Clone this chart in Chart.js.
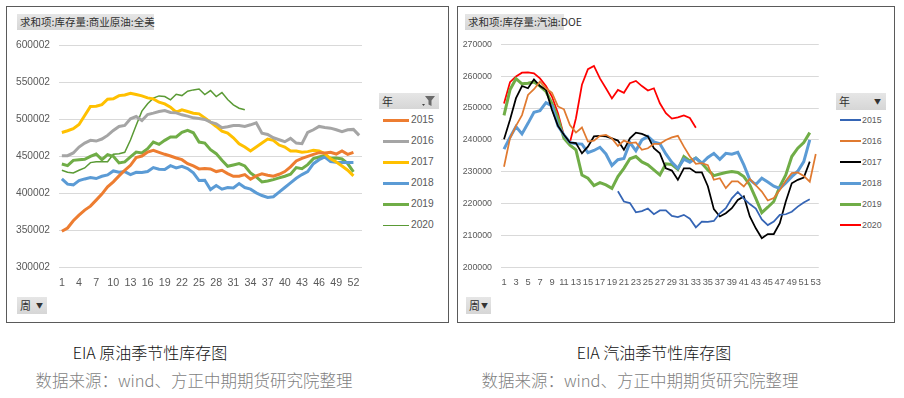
<!DOCTYPE html>
<html>
<head>
<meta charset="utf-8">
<script src="https://cdn.jsdelivr.net/npm/chart.js@4.4.0/dist/chart.umd.min.js"></script>
<style>
  body { margin: 0; width: 904px; height: 398px; background: #fff; position: relative; overflow: hidden;
         font-family: "Liberation Sans", "Noto Sans CJK SC", sans-serif; }
  .frame { position: absolute; top: 6px; height: 317px; border: 1px solid #5a5a5a; box-sizing: border-box; }
  .tag { position: absolute; height: 16px; line-height: 16px; background: linear-gradient(#e6e6e6, #d6d6d6);
         font-family: "Noto Sans CJK SC", sans-serif; font-size: 10.5px; color: #303030; padding-left: 3px;
         box-sizing: border-box; white-space: nowrap; }
  canvas { position: absolute; }
  .legItem { position: absolute; color: #595959; line-height: 14px; }
  .legLine { position: absolute; }
  .cap { position: absolute; transform: translateX(-50%); white-space: nowrap;
         font-family: "Noto Sans CJK SC", sans-serif; font-weight: 300; }
</style>
</head>
<body>

<div class="frame" style="left:6px;width:443px;"></div>
<div class="frame" style="left:457px;width:438px;"></div>

<div class="tag" style="left:17px;top:14px;width:137px;">求和项:库存量:商业原油:全美</div>
<div class="tag" style="left:465px;top:14px;width:99px;">求和项:库存量:汽油:DOE</div>

<canvas id="crudeChart" width="364" height="265" style="left:6px;top:30px;width:364px;height:265px;"></canvas>
<canvas id="gasChart" width="372" height="265" style="left:458px;top:30px;width:372px;height:265px;"></canvas>

<div class="tag" style="left:379px;top:93px;width:60px;height:16px;font-size:11px;">年
  <svg style="position:absolute;left:43px;top:2px" width="14" height="12" viewBox="0 0 14 12">
    <path d="M0 9 L3 9 L1.5 11 Z" fill="#444"/>
    <path d="M3 1 L13 1 L9.5 5.5 L9.5 11 L6.5 9.5 L6.5 5.5 Z" fill="#6a6a6a"/>
  </svg>
</div>
<div class="tag" style="left:836px;top:93px;width:50px;height:17px;font-size:11px;">年
  <span style="position:absolute;left:38px;top:0;font-size:7px;color:#333">▼</span>
</div>

<div id="crudeLegend"></div>
<div id="gasLegend"></div>

<div class="tag" style="left:17px;top:297px;width:30px;height:17px;font-size:11px;">周
  <span style="position:absolute;left:19px;top:0;font-size:7px;color:#333">▼</span>
</div>
<div class="tag" style="left:466px;top:297px;width:25px;height:17px;font-size:11px;">周
  <span style="position:absolute;left:15px;top:0;font-size:7px;color:#333">▼</span>
</div>

<div class="cap" style="left:150px;top:340px;font-size:16px;color:#111;">EIA 原油季节性库存图</div>
<div class="cap" style="left:194px;top:368px;font-size:16.5px;color:#7f7f7f;">数据来源：wind、方正中期期货研究院整理</div>
<div class="cap" style="left:654px;top:340px;font-size:16px;color:#111;">EIA 汽油季节性库存图</div>
<div class="cap" style="left:640px;top:368px;font-size:16.5px;color:#7f7f7f;">数据来源：wind、方正中期期货研究院整理</div>

<script>
// week categories (1..53)
const weeks = [1,2,3,4,5,6,7,8,9,10,11,12,13,14,15,16,17,18,19,20,21,22,23,24,25,26,27,
  28,29,30,31,32,33,34,35,36,37,38,39,40,41,42,43,44,45,46,47,48,49,50,51,52,53];

const years = ["2015", "2016", "2017", "2018", "2019", "2020"];

// y tick labels
const crudeTicks = [300002, 350002, 400002, 450002, 500002, 550002, 600002];
const gasTicks = [200000, 210000, 220000, 230000, 240000, 250000, 260000, 270000];

// commercial crude stocks, US (by week)
const crude2015 = [348800,353300,363000,370700,377400,382800,390900,399000,408800,415500,
  423600,431200,437900,448200,450400,455800,458000,455400,452700,450400,
  447700,445500,440100,437000,433000,433400,433000,429400,431200,426700,
  423100,423100,425400,419100,423600,426300,424500,423100,425800,429400,
  435700,443700,447300,450000,452700,454900,454500,455400,453100,457200,
  452700,455400];
const crude2016 = [450900,450900,454500,462500,467900,471500,470600,473300,478200,484900,
  490300,491600,500600,503700,498300,506400,508200,510400,511800,509100,
  508600,506000,504200,501900,501000,499700,496100,493900,488500,489800,
  491600,491600,490300,492500,495200,481300,479500,475000,472400,469700,
  474200,467900,467000,482200,485800,490300,488900,488000,485800,483100,
  485800,486300,478200];
const crude2017 = [482200,484500,487200,493000,505100,517200,517600,519800,527000,527500,
  531900,532800,535100,533300,531500,528800,527500,523000,520700,516300,
  509500,512700,510400,508200,507300,501900,496100,490300,484000,481300,
  475000,467000,462500,457200,462500,467900,473300,471500,465200,462500,
  457200,457200,455400,456300,458000,457200,453600,446800,442400,437000,
  431200,423600];
const crude2018 = [419500,412400,411500,417300,419500,421300,420000,423100,424900,430300,
  428500,429400,425400,428500,428100,429400,434800,432500,432100,437400,
  434300,436500,433400,427600,417300,417700,405200,410600,405700,407900,
  407400,413300,407900,405700,400700,397100,394500,395400,401600,407900,
  414200,420400,425400,429400,440100,445500,449100,442800,441900,441500,
  441500,441500];
const crude2019 = [439700,437400,444600,445500,446000,450000,453100,445500,452200,450000,
  441000,442400,449100,455800,454500,460300,469200,466100,471500,476000,
  476000,482200,484900,481800,469200,467900,458900,453600,444600,436500,
  438300,440100,437000,427600,422200,415500,416800,418600,420900,423100,
  425800,434800,433400,438800,446800,449100,450900,447300,447700,446400,
  440100,428900];
const crude2020 = [431200,428500,427600,431200,434300,441500,442800,442800,442800,452700,
  453600,455400,472000,492000,511000,521000,528500,531500,530600,526100,
  533700,531900,537800,539600,540900,533300,538700,530600,536000,526600,
  519400,514900,512700];

// gasoline stocks, DOE (by week)
const gas2015 = [null,null,null,null,null,null,null,null,null,null,
  null,null,null,null,null,null,null,null,null,223900,
  220700,220200,217300,217700,218500,216700,217900,217900,216200,215800,
  216500,215300,212600,214400,214300,214600,217000,218600,221700,223700,
  221600,219900,218500,215100,213300,214400,216500,216700,217500,219100,
  220400,221400];
const gas2016 = [231600,240500,244400,247800,254100,255900,258300,256200,254800,250500,
  249600,244700,242300,243900,239500,239800,241300,241600,240500,238100,
  239800,239000,239200,236900,237400,238800,238800,240000,240800,241300,
  237900,234800,232500,232700,232100,227500,228000,224900,227000,227000,
  225400,227800,225800,223800,221000,221800,224300,227200,229600,229800,
  228700,226900,235600];
const gas2017 = [240200,246300,253100,256900,256200,259000,256900,255700,249400,244400,
  241600,239200,239000,235800,237900,241100,241300,241100,240500,239800,
  236900,240500,242300,241900,241100,237400,235800,231100,230400,227500,
  231100,231100,229800,229800,225500,218300,216000,217000,218600,221200,
  222300,216000,212300,209200,210500,210500,213900,220700,226400,227500,
  228200,233200];
const gas2018 = [237100,240800,244200,241900,245200,248700,249200,251700,250700,244400,
  241600,239200,238800,238700,236000,236700,237700,235600,232000,233800,
  234200,239200,236600,240000,241100,239400,238800,235600,233000,231100,
  234000,233000,234300,232700,234500,235800,233900,235800,235500,236100,
  232200,227500,226000,228000,226800,225500,224800,226500,228500,230200,
  233200,240000];
const gas2019 = [247700,255700,259200,257600,257800,258200,256900,255200,251500,246800,
  240500,238400,236900,229000,228000,225700,226600,225900,224800,228500,
  231100,234100,234800,233100,232200,230600,229000,232500,232300,230800,
  234800,233400,234300,232700,230600,228800,229300,229800,230100,229800,
  228500,225900,221700,217200,218900,220700,225400,229000,234800,237400,
  239200,242300];
const gas2020 = [251400,258100,259900,261100,261200,260900,259300,256900,253600,248400,
  241300,239200,246800,257300,262200,263200,259300,256200,253000,255700,
  254800,257800,258500,256900,255500,256200,251500,248400,246700,247100,
  247700,246900,243800];

const crudeSeries = [crude2015, crude2016, crude2017, crude2018, crude2019, crude2020];
const crudeColors = ["#ED7D31", "#A5A5A5", "#FFC000", "#5B9BD5", "#70AD47", "#5A9A35"];
const crudeWidths = [3, 3, 3, 3, 3, 1.5];

const gasSeries = [gas2015, gas2016, gas2017, gas2018, gas2019, gas2020];
const gasColors = ["#3565B5", "#E07A30", "#000000", "#5B9BD5", "#70AD47", "#FF0000"];
const gasWidths = [1.75, 1.75, 1.75, 3, 3, 1.75];

Chart.defaults.font.family = "Liberation Sans";
Chart.defaults.color = "#595959";

function makeChart(id, series, colors, widths, ticks, yWidth, padRight, step, fontSize) {
  const datasets = series.map((data, i) => ({
    label: years[i],
    data: data,
    borderColor: colors[i],
    backgroundColor: colors[i],
    borderWidth: widths[i],
    pointRadius: 0,
    tension: 0,
    spanGaps: false
  }));

  return new Chart(document.getElementById(id), {
    type: "line",
    data: { labels: weeks, datasets: datasets },
    options: {
      responsive: false,
      animation: false,
      layout: { padding: { top: 14, right: padRight, left: 0, bottom: 0 } },
      plugins: { legend: { display: false }, tooltip: { enabled: false } },
      scales: {
        x: {
          offset: true,
          grid: { display: false, drawTicks: false },
          border: { display: false },
          ticks: {
            autoSkip: false,
            maxRotation: 0,
            padding: 9,
            font: { size: fontSize + 0.5 },
            callback: function(val, idx) {
              return idx % step === 0 ? String(weeks[idx]) : null;
            }
          },
          afterFit: function(scale) { scale.height = 27.5; }
        },
        y: {
          min: ticks[0],
          max: ticks[ticks.length - 1],
          grid: { color: "#d9d9d9", lineWidth: 1, drawTicks: false },
          border: { display: false },
          ticks: {
            padding: 9,
            font: { size: fontSize },
            callback: v => String(v)
          },
          afterBuildTicks: function(scale) {
            scale.ticks = ticks.map(v => ({ value: v }));
          },
          afterFit: function(scale) { scale.width = yWidth; }
        }
      }
    }
  });
}

makeChart("crudeChart", crudeSeries, crudeColors, crudeWidths, crudeTicks, 53, 8, 3, 10.2);
makeChart("gasChart", gasSeries, gasColors, gasWidths, gasTicks, 43, 7, 2, 8.8);

// legends built from the same years / colours
function buildLegend(id, colors, widths, lineX, lineW, textX, fontSize) {
  const box = document.getElementById(id);
  const ys = [120.3, 141.3, 162.3, 183.3, 204.3, 225.3];
  years.forEach((y, i) => {
    const line = document.createElement("div");
    line.className = "legLine";
    line.style.left = lineX + "px";
    line.style.width = lineW + "px";
    line.style.top = (ys[i] - widths[i] / 2) + "px";
    line.style.height = widths[i] + "px";
    line.style.background = colors[i];
    box.appendChild(line);

    const txt = document.createElement("div");
    txt.className = "legItem";
    txt.style.left = textX + "px";
    txt.style.top = (ys[i] - 7) + "px";
    txt.style.fontSize = fontSize + "px";
    txt.textContent = y;
    box.appendChild(txt);
  });
}

buildLegend("crudeLegend", crudeColors, crudeWidths, 383, 26, 411, 10.2);
buildLegend("gasLegend", gasColors, gasWidths, 840, 21, 862, 8.8);
</script>
</body>
</html>
